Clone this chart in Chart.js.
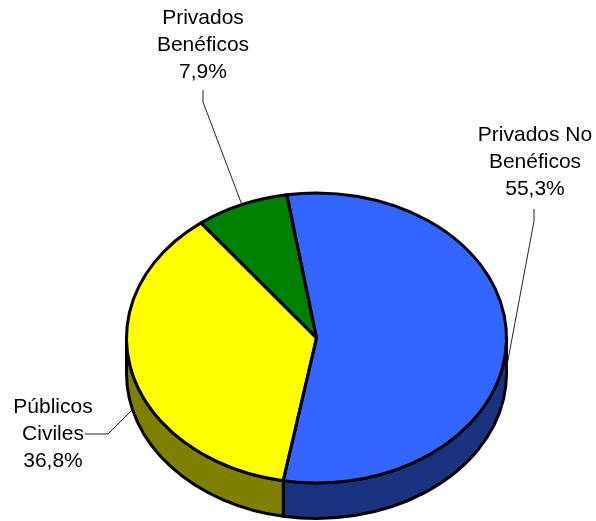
<!DOCTYPE html>
<html>
<head>
<meta charset="utf-8">
<style>
  html, body { margin: 0; padding: 0; background: #fff; }
  canvas { display: block; }
</style>
<script src="https://cdn.jsdelivr.net/npm/chart.js@4/dist/chart.umd.min.js"></script>
</head>
<body>
<canvas id="pie3d" width="596" height="521"></canvas>
<script>
const categories = ['Privados No Beneficos', 'Públicos Civiles', 'Privados Benéficos'];
const shares = [55.3, 36.8, 7.9];
const topColors = ['#3366FF', '#FFFF00', '#008000'];
const sideColors = ['#1A3380', '#808000', '#004000'];

// callout text + leader lines
const callouts = [
  { lines: ['Privados No', 'Benéficos', '55,3%'], x: 535, y: 135.5, leader: [[534, 209], [534, 221], [505, 376]] },
  { lines: ['Públicos', 'Civiles', '36,8%'], x: 53, y: 407.5, leader: [[85, 434], [108, 434], [132, 410]] },
  { lines: ['Privados', 'Benéficos', '7,9%'], x: 203, y: 18.5, leader: [[203, 90], [203, 102], [242, 205]] }
];

const centerY = 338;   // where the tilted top face sits on the page
const squash = 145 / 190;
const depth = 35.5;

function tilt(ctx, el) {
  ctx.translate(0, centerY);
  ctx.scale(1, squash);
  ctx.translate(0, -el.y);
}

const pie3d = {
  id: 'pie3d',
  beforeDatasetsDraw(chart) {
    const ctx = chart.ctx;
    const arcs = chart.getDatasetMeta(0).data;
    arcs.forEach((el, i) => {
      const a0 = Math.max(el.startAngle, 0);
      const a1 = Math.min(el.endAngle, Math.PI);
      if (a1 <= a0) return;
      const rx = el.outerRadius, ry = rx * squash;
      ctx.save();
      ctx.beginPath();
      ctx.ellipse(el.x, centerY, rx, ry, 0, a0, a1);
      ctx.ellipse(el.x, centerY + depth, rx, ry, 0, a1, a0, true);
      ctx.closePath();
      ctx.fillStyle = sideColors[i];
      ctx.fill();
      ctx.lineWidth = 3;
      ctx.lineJoin = 'round';
      ctx.strokeStyle = '#000';
      ctx.stroke();
      ctx.restore();
    });
    ctx.save();
    tilt(ctx, arcs[0]);
  },
  afterDatasetsDraw(chart) {
    const ctx = chart.ctx;
    ctx.restore();
    // outline drawn here so the line width is not squashed with the face
    chart.getDatasetMeta(0).data.forEach(el => {
      const rx = el.outerRadius, ry = rx * squash;
      ctx.save();
      ctx.beginPath();
      ctx.moveTo(el.x, centerY);
      ctx.ellipse(el.x, centerY, rx, ry, 0, el.startAngle, el.endAngle);
      ctx.closePath();
      ctx.lineWidth = 3;
      ctx.lineJoin = 'round';
      ctx.strokeStyle = '#000';
      ctx.stroke();
      ctx.restore();
    });
    ctx.save();
    ctx.fillStyle = '#000';
    ctx.font = '21px "Liberation Sans", Arial, sans-serif';
    ctx.textAlign = 'center';
    ctx.textBaseline = 'middle';
    callouts.forEach(c => {
      c.lines.forEach((t, i) => ctx.fillText(t, c.x, c.y + i * 27));
      ctx.beginPath();
      c.leader.forEach((p, i) => i ? ctx.lineTo(p[0], p[1]) : ctx.moveTo(p[0], p[1]));
      ctx.lineWidth = 1;
      ctx.strokeStyle = '#222';
      ctx.stroke();
    });
    ctx.restore();
  }
};

new Chart(document.getElementById('pie3d').getContext('2d'), {
  type: 'pie',
  data: {
    labels: categories,
    datasets: [{
      data: shares,
      backgroundColor: topColors,
      borderWidth: 0,
      hoverOffset: 0
    }]
  },
  options: {
    responsive: false,
    animation: false,
    rotation: -9,
    layout: { padding: { left: 126.5, right: 89.5, top: 70, bottom: 71 } },
    plugins: { legend: { display: false }, tooltip: { enabled: false } }
  },
  plugins: [pie3d]
});
</script>
</body>
</html>
